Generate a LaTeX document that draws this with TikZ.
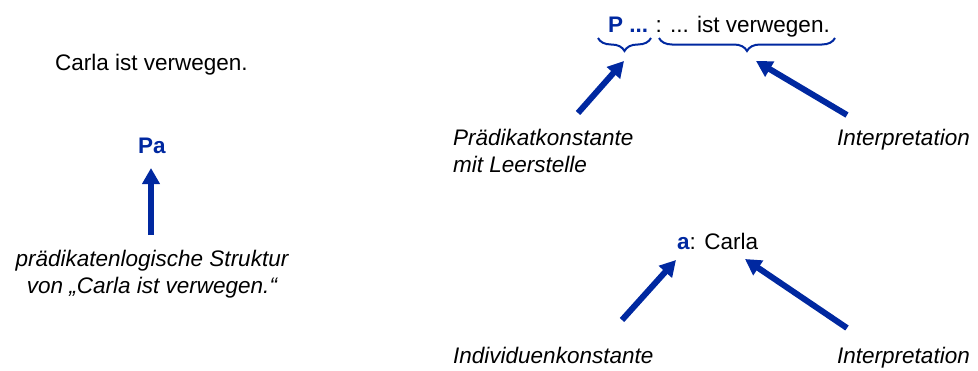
\documentclass[tikz,border=0pt]{standalone}
\usepackage{fontspec}
\setmainfont{Liberation Sans}
\usetikzlibrary{arrows.meta,decorations.pathreplacing}
\definecolor{logicblue}{RGB}{0,40,160}
\begin{document}
\begin{tikzpicture}[x=1pt,y=-1pt,
  txt/.style={inner sep=0pt, font=\fontsize{22.5}{26.5}\selectfont},
  note/.style={txt, font=\fontsize{22.5}{26.5}\selectfont\itshape},
  pointer/.style={draw=logicblue, line width=6pt,
    -{Triangle[length=16pt,width=17pt]}},
  bracket/.style={draw=logicblue, line width=2pt,
    decorate, decoration={brace, mirror, amplitude=13pt}}]
  \useasboundingbox (0,0) rectangle (978,370);

  % left: sentence, formula and its caption
  \node[txt, anchor=base west] (sent) at (55,70) {Carla ist verwegen.};
  \node[txt, anchor=base, text=logicblue, font=\fontsize{22.5}{26.5}\selectfont\bfseries] (pa) at (152,153) {Pa};
  % multi-line nodes: base anchor sits on the last line
  \node[note, anchor=base, align=center] (cap) at (152,293)
    {prädikatenlogische Struktur\\von „Carla ist verwegen.“};
  \coordinate (paTail) at (151,235);
  \coordinate (paTip) at (151,168);
  \draw[pointer] (paTail) -- (paTip);

  % right, top: predicate constant and its interpretation
  \node[txt, anchor=base west] (pred) at (608,32)
    {{\color{logicblue}\bfseries P ...}\hspace{-1pt} : ... ist verwegen.};
  \coordinate (b1l) at (598,38);
  \coordinate (b1r) at (651,38);
  \coordinate (b2l) at (659,38);
  \coordinate (b2r) at (835,38);
  \draw[bracket] (b1l) -- (b1r);
  \draw[bracket] (b2l) -- (b2r);
  \node[note, anchor=base west, align=left] (pk) at (453,172)
    {Prädikatkonstante\\mit Leerstelle};
  \node[note, anchor=base west] (int1) at (837,145) {Interpretation};
  \coordinate (pkTail) at (578,113);
  \coordinate (pkTip) at (624,61);
  \coordinate (i1Tail) at (847,115);
  \coordinate (i1Tip) at (756,61);
  \draw[pointer] (pkTail) -- (pkTip);
  \draw[pointer] (i1Tail) -- (i1Tip);

  % right, bottom: individual constant and its interpretation
  \node[txt, anchor=base west] (ind) at (677,249)
    {{\color{logicblue}\bfseries a}: Carla};
  \node[note, anchor=base west] (ik) at (453,363) {Individuenkonstante};
  \node[note, anchor=base west] (int2) at (837,363) {Interpretation};
  \coordinate (ikTail) at (622,320);
  \coordinate (ikTip) at (676,260);
  \coordinate (i2Tail) at (847,328);
  \coordinate (i2Tip) at (745,259);
  \draw[pointer] (ikTail) -- (ikTip);
  \draw[pointer] (i2Tail) -- (i2Tip);
\end{tikzpicture}
\end{document}
